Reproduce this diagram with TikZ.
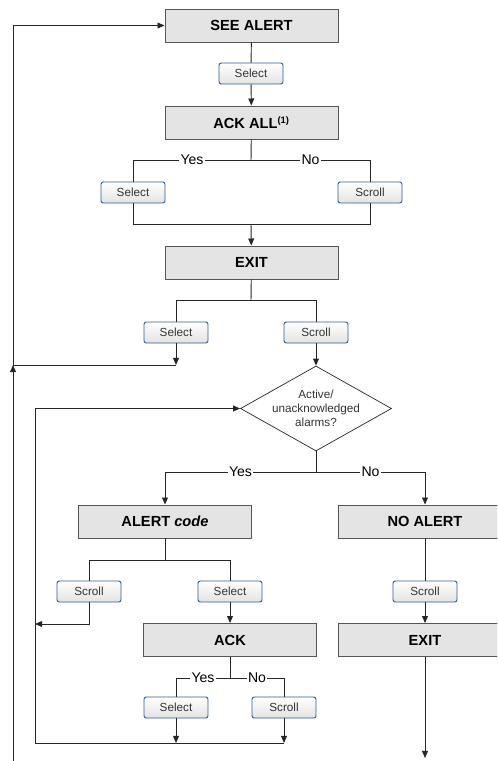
\documentclass[tikz,border=0pt]{standalone}
\usepackage{fontspec}
\setmainfont{Liberation Sans}
\usetikzlibrary{shapes.geometric,arrows.meta}
\definecolor{boxfill}{HTML}{E4E4E4}
\definecolor{boxline}{HTML}{555555}
\definecolor{btnline}{HTML}{2E5E92}
\definecolor{wire}{HTML}{262626}
\begin{document}
\begin{tikzpicture}[x=0.03cm, y=-0.03cm, color=wire, line width=0.8pt,
    box/.style={draw=boxline, fill=boxfill, minimum width=5.19cm, minimum height=0.99cm, inner sep=0pt, text=black, font=\bfseries\fontsize{12.5}{14}\selectfont},
    button/.style={draw=btnline, rounded corners=2pt, top color=white, bottom color=gray!22, minimum width=1.92cm, minimum height=0.63cm, inner sep=0pt, text=black!80, font=\fontsize{10}{12}\selectfont},
    query/.style={draw=wire, shape=diamond, aspect=1.78, line width=0.6pt, minimum width=4.53cm, minimum height=2.55cm, inner xsep=-7pt, inner ysep=-1pt, align=center, text=black!80, font=\fontsize{10}{12}\selectfont},
    lbl/.style={fill=white, inner sep=1pt, text=black, font=\fontsize{12}{14}\selectfont},
    >={Triangle[length=6pt, width=5pt]}]
  \clip (0,0) rectangle (497,761);
  \fill[white] (0,0) rectangle (497,761);

  \node[box] (seealert) at (251.5,25.5) {SEE ALERT};
  \node[button] (sel1) at (251,73.5) {Select};
  \node[box] (ackall) at (251.5,122.5) {ACK ALL\textsuperscript{\fontsize{8}{9}\selectfont(1)}};
  \node[button] (sel2) at (133,192.5) {Select};
  \node[button] (scr2) at (370,192.5) {Scroll};
  \node[box] (exit1) at (251.5,262.5) {EXIT};
  \node[button] (sel3) at (176,332.5) {Select};
  \node[button] (scr3) at (316,332.5) {Scroll};
  \node[query] (alarms) at (316,408.5) {Active/\\unacknowledged\\alarms?};
  \node[box] (alert) at (165,521.5) {ALERT \textit{code}};
  \node[box] (noalert) at (425,521.5) {NO ALERT};
  \node[button] (scr4) at (89,591.5) {Scroll};
  \node[button] (sel4) at (230,591.5) {Select};
  \node[button] (scr6) at (425,591.5) {Scroll};
  \node[box] (ack) at (230,640) {ACK};
  \node[box] (exit2) at (425,640) {EXIT};
  \node[button] (sel5) at (176,707.5) {Select};
  \node[button] (scr5) at (284,707.5) {Scroll};

  \coordinate (split1) at (251,160);
  \coordinate (join1) at (251,224);
  \coordinate (split2) at (251,300);
  \coordinate (ret1) at (176,365);
  \coordinate (ret2) at (13,365);
  \coordinate (bot1) at (13,761);
  \coordinate (split3) at (316,472);
  \coordinate (split4) at (165,560);
  \coordinate (loop1) at (35,743);
  \coordinate (loop2) at (35,624);
  \coordinate (split5) at (230,678);
  \coordinate (end5a) at (176,743);
  \coordinate (end5b) at (284,743);
  \coordinate (bot2) at (425,758);

  \draw (seealert) -- (sel1);
  \draw[->] (sel1) -- (ackall);
  \draw (ackall) -- (split1);
  \draw (split1) -| node[lbl, pos=0.25] {Yes} (sel2);
  \draw (split1) -| node[lbl, pos=0.25] {No} (scr2);
  \draw (sel2) |- (join1);
  \draw (scr2) |- (join1);
  \draw[->] (join1) -- (exit1);
  \draw (exit1) -- (split2);
  \draw (split2) -| (sel3);
  \draw (split2) -| (scr3);
  \draw[->] (sel3) -- (ret1);
  \draw (ret1) -- (ret2);
  \draw[->] (bot1) -- (ret2);
  \draw[->] (ret2) |- (seealert);
  \draw[->] (scr3) -- (alarms);
  \draw[->] (loop1) |- (alarms);
  \draw (alarms) -- (split3);
  \draw[->] (split3) -| node[lbl, pos=0.25] {Yes} (alert);
  \draw[->] (split3) -| node[lbl, pos=0.25] {No} (noalert);
  \draw (alert) -- (split4);
  \draw (split4) -| (scr4);
  \draw (split4) -| (sel4);
  \draw[->] (scr4) |- (loop2);
  \draw[->] (sel4) -- (ack);
  \draw (ack) -- (split5);
  \draw (split5) -| node[lbl, pos=0.25] {Yes} (sel5);
  \draw (split5) -| node[lbl, pos=0.25] {No} (scr5);
  \draw[->] (sel5) -- (end5a);
  \draw[->] (scr5) -- (end5b);
  \draw (end5b) -- (loop1);
  \draw (noalert) -- (scr6);
  \draw[->] (scr6) -- (exit2);
  \draw[->] (exit2) -- (bot2);
\end{tikzpicture}
\end{document}
